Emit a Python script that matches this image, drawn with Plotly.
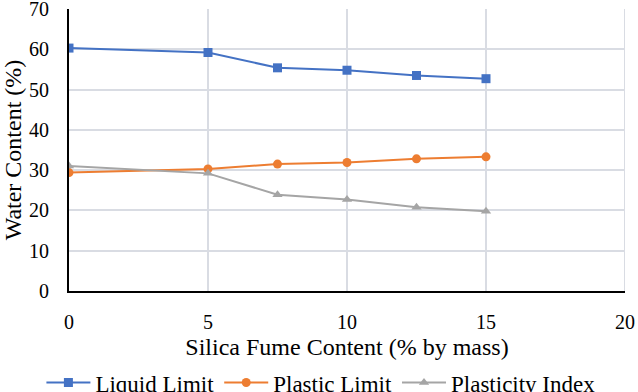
import plotly.graph_objects as go

silica = [0, 5, 7.5, 10, 12.5, 15]
liquid_limit = [60.3, 59.2, 55.4, 54.8, 53.5, 52.7]
plastic_limit = [29.4, 30.3, 31.5, 31.9, 32.8, 33.3]
plasticity_index = [31.0, 29.2, 23.9, 22.7, 20.8, 19.8]

FONT = "Liberation Serif"
FS = 20

fig = go.Figure()
fig.add_trace(go.Scatter(x=silica, y=liquid_limit, mode="lines+markers", name="Liquid Limit",
                         line=dict(color="#4472C4", width=2),
                         marker=dict(symbol="square", size=9, color="#4472C4")))
fig.add_trace(go.Scatter(x=silica, y=plastic_limit, mode="lines+markers", name="Plastic Limit",
                         line=dict(color="#ED7D31", width=2),
                         marker=dict(symbol="circle", size=9, color="#ED7D31")))
fig.add_trace(go.Scatter(x=silica, y=plasticity_index, mode="lines+markers", name="Plasticity Index",
                         line=dict(color="#A5A5A5", width=2),
                         marker=dict(symbol="triangle-up", size=9, color="#A5A5A5")))

fig.update_layout(
    width=638, height=392,
    margin=dict(l=69, r=13, t=9, b=101, autoexpand=False),
    paper_bgcolor="white", plot_bgcolor="white",
    font=dict(family=FONT, size=FS, color="black"),
    showlegend=True,
    legend=dict(orientation="h", xref="container", yref="container", x=0.503, y=0.024,
                xanchor="center", yanchor="middle", font=dict(size=23), itemwidth=44,
                bgcolor="rgba(0,0,0,0)"),
    xaxis=dict(range=[0, 20], dtick=5, showgrid=True, gridcolor="#D9DCE3", gridwidth=2,
               zeroline=False, showline=True, linecolor="black", linewidth=2,
               mirror=False, ticks="", ticklabelstandoff=12, automargin=False,
               ticklabeloverflow="allow",
               title=dict(text="Silica Fume Content (% by mass)", standoff=6)),
    yaxis=dict(range=[0, 70], dtick=10, showgrid=True, gridcolor="#D9DCE3", gridwidth=2,
               zeroline=False, showline=True, linecolor="black", linewidth=2,
               ticks="", ticklabelstandoff=14, automargin=False,
               ticklabeloverflow="allow",
               title=dict(text="Water Content (%)", standoff=2)),
)
fig.add_shape(type="line", xref="x", yref="paper", x0=20, x1=20, y0=0, y1=1,
              line=dict(color="#D9DCE3", width=2), layer="below")

fig.write_html("out.html", config={"displayModeBar": False},
               post_script="document.body.style.margin='0';document.body.style.overflow='hidden';")
